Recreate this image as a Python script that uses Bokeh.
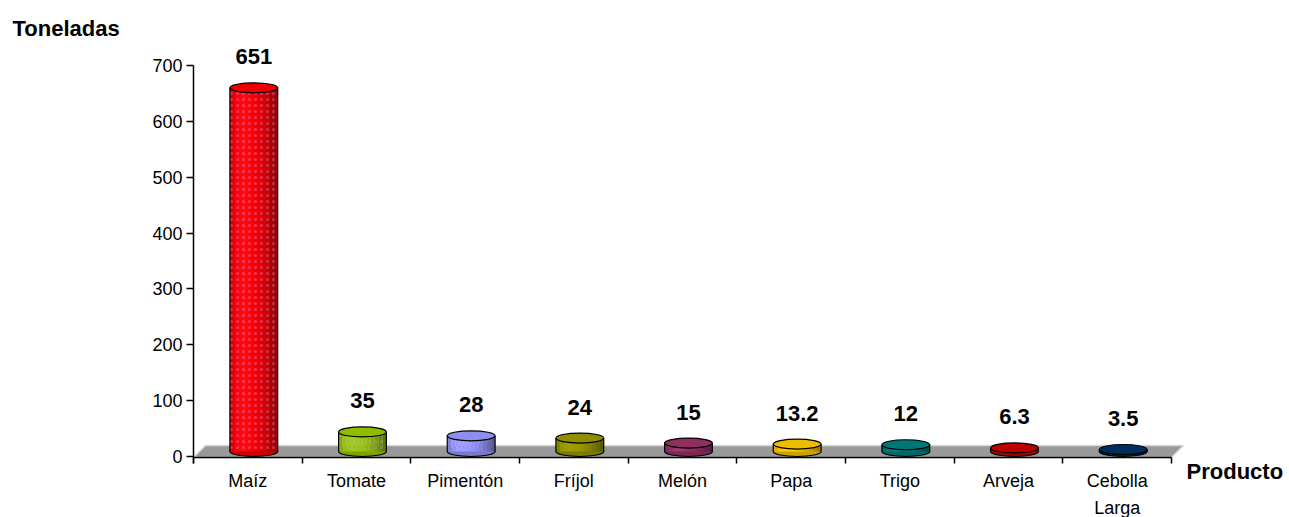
from bokeh.plotting import figure
from bokeh.models import Range1d, FixedTicker
from bokeh.embed import file_html
from bokeh.resources import INLINE
from bokeh.core.properties import value

# ---- data ----
categories = ["Maíz", "Tomate", "Pimentón", "Fríjol", "Melón", "Papa", "Trigo", "Arveja", "Cebolla Larga"]
toneladas = [651, 35, 28, 24, 15, 13.2, 12, 6.3, 3.5]
value_labels = ["651", "35", "28", "24", "15", "13.2", "12", "6.3", "3.5"]
y_ticks = [0, 100, 200, 300, 400, 500, 600, 700]

# ---- style / layout ----
colors = ["#FF0000", "#99CC00", "#9999FF", "#999900", "#993366", "#FFCC00", "#008080", "#CC0000", "#003366"]
hatched = [True, True, False, False, False, False, False, False, False]
FONT = "Liberation Sans"
W, H = 1289, 517
X0PX, PX = 193.0, 108.67     # pixel of first category boundary, pixels per category
Y0PX, PY = 456.0, 0.5586     # pixel of zero, pixels per tonne
n = len(categories)
depth_x = 0.055        # 3D shift of the cylinders (x units)
base = 9.0             # 3D shift of the cylinders (y units)
cyl_w = 0.44
ell_h = 18.0
floor_bottom = -1.8
floor_top = 19.7
floor_dx = 0.11
label_gap = 42

xr = Range1d(-X0PX / PX, (W - X0PX) / PX)
yr = Range1d(-(H - Y0PX) / PY, Y0PX / PY)
p = figure(width=W, height=H, output_backend="svg", toolbar_location=None,
           x_range=xr, y_range=yr,
           min_border_left=0, min_border_right=0, min_border_top=0, min_border_bottom=0)
p.outline_line_color = None
p.grid.grid_line_color = None
p.background_fill_color = "white"

# floor
p.patch([0, n, n + floor_dx, floor_dx], [floor_bottom, floor_bottom, floor_top, floor_top],
        fill_color="#999999", line_color="#d8d8d8", line_width=1.5)


def shade(hexc, f):
    r, g, b = int(hexc[1:3], 16), int(hexc[3:5], 16), int(hexc[5:7], 16)
    if f >= 1:
        t = f - 1
        r, g, b = [int(c + (255 - c) * t) for c in (r, g, b)]
    else:
        r, g, b = [int(c * f) for c in (r, g, b)]
    return "#%02x%02x%02x" % (r, g, b)


profile = [0.85, 0.97, 1.03, 1.05, 1.03, 1.0, 0.97, 0.92, 0.85, 0.77, 0.68, 0.6]
ns = len(profile)

for i, (v, c) in enumerate(zip(toneladas, colors)):
    cx = i + 0.5 + depth_x
    top = v + base
    p.ellipse(x=[cx], y=[base], width=cyl_w, height=ell_h, fill_color=shade(c, 0.8),
              line_color="black", line_width=1.2)
    lefts = [cx - cyl_w / 2 + k * cyl_w / ns for k in range(ns)]
    rights = [l + cyl_w / ns + 0.002 for l in lefts]
    p.quad(left=lefts, right=rights, bottom=[base] * ns, top=[top] * ns,
           fill_color=[shade(c, f) for f in profile], line_color=None)
    if hatched[i]:
        p.quad(left=[cx - cyl_w / 2], right=[cx + cyl_w / 2], bottom=[base], top=[top],
               fill_alpha=0, line_color=None, hatch_pattern="dot", hatch_scale=6,
               hatch_color="#c088ff", hatch_alpha=0.4, hatch_weight=1)
    p.segment(x0=[cx - cyl_w / 2, cx + cyl_w / 2], y0=[base, base],
              x1=[cx - cyl_w / 2, cx + cyl_w / 2], y1=[top, top], line_color="black", line_width=1.2)
    p.ellipse(x=[cx], y=[top], width=cyl_w, height=ell_h, fill_color=shade(c, 0.93),
              line_color="black", line_width=1.2)

# value labels
p.text(x=[i + 0.5 + depth_x for i in range(n)], y=[v + base + label_gap for v in toneladas],
       text=value_labels, text_font=value(FONT), text_font_size="22px",
       text_font_style=value("bold"), text_align="center", text_baseline="bottom",
       text_color="black")

# axis titles
p.text(x=[xr.start], y=[yr.end], text=["Toneladas"], x_offset=12, y_offset=28,
       text_font=value(FONT), text_font_size="22px", text_font_style=value("bold"),
       text_align="left", text_baseline="middle", text_color="black")
p.text(x=[n], y=[floor_bottom], text=["Producto"], x_offset=15, y_offset=14,
       text_font=value(FONT), text_font_size="22px", text_font_style=value("bold"),
       text_align="left", text_baseline="middle", text_color="black")

# axes
xa = p.xaxis[0]
xa.fixed_location = floor_bottom
xa.bounds = (0, n)
xa.ticker = FixedTicker(ticks=[i + 0.5 for i in range(n)], minor_ticks=list(range(n + 1)))
xa.major_label_overrides = {i + 0.5: c.replace(" ", "\n") for i, c in enumerate(categories)}
xa.axis_line_color = "black"
xa.axis_line_width = 1.5
xa.major_tick_line_color = None
xa.major_tick_out = 0
xa.major_tick_in = 0
xa.minor_tick_line_color = "black"
xa.minor_tick_line_width = 1.5
xa.minor_tick_out = 6
xa.minor_tick_in = 0
xa.major_label_standoff = 7
xa.major_label_text_font = FONT
xa.major_label_text_font_size = "18px"
xa.major_label_text_line_height = 1.35
xa.major_label_text_color = "black"

ya = p.yaxis[0]
ya.fixed_location = 0
ya.bounds = (-12, 700)
ya.ticker = FixedTicker(ticks=y_ticks, minor_ticks=[])
ya.axis_line_color = "black"
ya.axis_line_width = 1.5
ya.major_tick_line_color = "black"
ya.major_tick_line_width = 1.5
ya.major_tick_out = 7
ya.major_tick_in = 0
ya.major_label_standoff = 4
ya.major_label_text_font = FONT
ya.major_label_text_font_size = "18px"
ya.major_label_text_color = "black"

open("out.html", "w").write(file_html(p, INLINE))
